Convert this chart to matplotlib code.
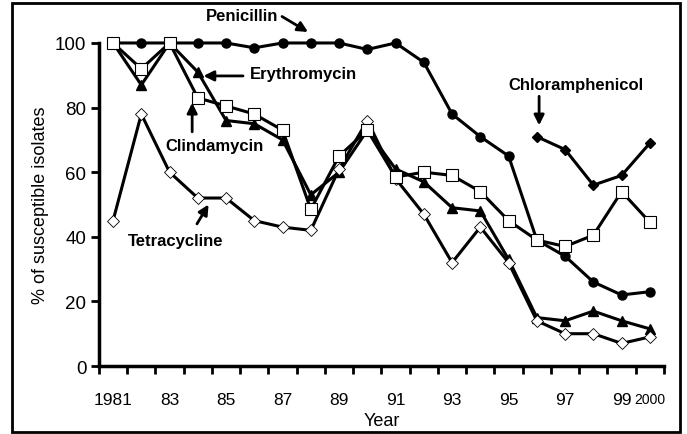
import matplotlib.pyplot as plt
from matplotlib.patches import Rectangle

years = list(range(1981, 2001))
penicillin = [100, 100, 100, 100, 100, 98.5, 100, 100, 100, 98, 100, 94, 78, 71, 65, 39, 34, 26, 22, 23]
erythromycin = [100, 87, 100, 91, 76, 75, 70, 53, 60, 73, 61, 57, 49, 48, 33, 15, 14, 17, 14, 11.5]
clindamycin = [100, 92, 100, 83, 80.5, 78, 73, 48.5, 65, 73, 58.5, 60, 59, 54, 45, 39, 37, 40.5, 54, 44.5]
tetracycline = [45, 78, 60, 52, 52, 45, 43, 42, 61, 76, 58, 47, 32, 43, 32, 14, 10, 10, 7, 9]
chlor_years = [1996, 1997, 1998, 1999, 2000]
chloramphenicol = [71, 67, 56, 59, 69]

tick_labels = ['1981', '83', '85', '87', '89', '91', '93', '95', '97', '99']

plt.rcParams['font.family'] = ['Liberation Sans', 'DejaVu Sans']

fig = plt.figure(figsize=(6.87, 4.35), dpi=100)
ax = fig.add_axes((0.144, 0.1563, 0.8225, 0.7426))

idx = list(range(len(years)))
cidx = [years.index(y) for y in chlor_years]
lw = 2.2

ax.plot(idx, penicillin, '-o', color='k', lw=lw, ms=6.5, mfc='k', mec='k', clip_on=False, zorder=3)
ax.plot(idx, erythromycin, '-^', color='k', lw=lw, ms=7.5, mfc='k', mec='k', clip_on=False, zorder=3)
ax.plot(idx, tetracycline, '-D', color='k', lw=lw, ms=6.5, mfc='white', mec='k', mew=0.6, clip_on=False, zorder=4)
ax.plot(idx, clindamycin, '-s', color='k', lw=lw, ms=9, mfc='white', mec='k', mew=0.8, clip_on=False, zorder=5)
ax.plot(cidx, chloramphenicol, '-D', color='k', lw=lw, ms=5.5, mfc='k', mec='k', clip_on=False, zorder=3)

ax.set_xlim(-0.5, 19.5)
ax.set_ylim(0, 100)
ax.set_yticks([0, 20, 40, 60, 80, 100])
ax.set_xticks([i - 0.5 for i in range(21)])
ax.set_xticklabels([])
ax.set_xticks(list(range(0, 19, 2)) + [19], minor=True)
ax.set_xticklabels(tick_labels + ['2000'], minor=True)
for lab in ax.get_xticklabels(minor=True):
    lab.set_fontsize(12.5)
ax.get_xticklabels(minor=True)[-1].set_fontsize(10)
ax.tick_params(axis='x', which='minor', length=0, pad=19)
ax.tick_params(axis='x', which='major', direction='out', length=6, width=2)
ax.tick_params(axis='y', direction='out', length=6, width=2, labelsize=13.5, pad=3)

for s in ['top', 'right']:
    ax.spines[s].set_visible(False)
for s in ['left', 'bottom']:
    ax.spines[s].set_linewidth(2.5)

ax.set_xlabel('Year', fontsize=13, labelpad=3)
ax.set_ylabel('% of susceptible isolates', fontsize=13, labelpad=4)

bold = dict(fontsize=12, fontweight='bold', clip_on=False)
ap = dict(arrowstyle='-|>', lw=2, color='k', mutation_scale=15, shrinkA=0, shrinkB=0)

ax.text(4.57, 108.5, 'Penicillin', ha='center', va='center', **bold)
ax.annotate('', xy=(6.9, 103.4), xytext=(5.98, 108.2), arrowprops=ap, annotation_clip=False)

ax.text(4.85, 90.7, 'Erythromycin', ha='left', va='center', **bold)
ax.annotate('', xy=(3.2, 89.8), xytext=(4.6, 89.8), arrowprops=ap)

ax.text(3.58, 68.4, 'Clindamycin', ha='center', va='center', **bold)
ax.annotate('', xy=(2.8, 81.5), xytext=(2.8, 72.5), arrowprops=ap)

ax.text(2.23, 39, 'Tetracycline', ha='center', va='center', **bold)
ax.annotate('', xy=(3.38, 50), xytext=(2.97, 44), arrowprops=ap)

ax.text(13.98, 87.3, 'Chloramphenicol', ha='left', va='center', **bold)
ax.annotate('', xy=(15.08, 74.5), xytext=(15.08, 83.5), arrowprops=ap)

fig.patches.append(Rectangle((0.0175, 0.004), 0.972, 0.986, transform=fig.transFigure,
                             fill=False, edgecolor='k', lw=2))

fig.savefig('out.png', dpi=100)
